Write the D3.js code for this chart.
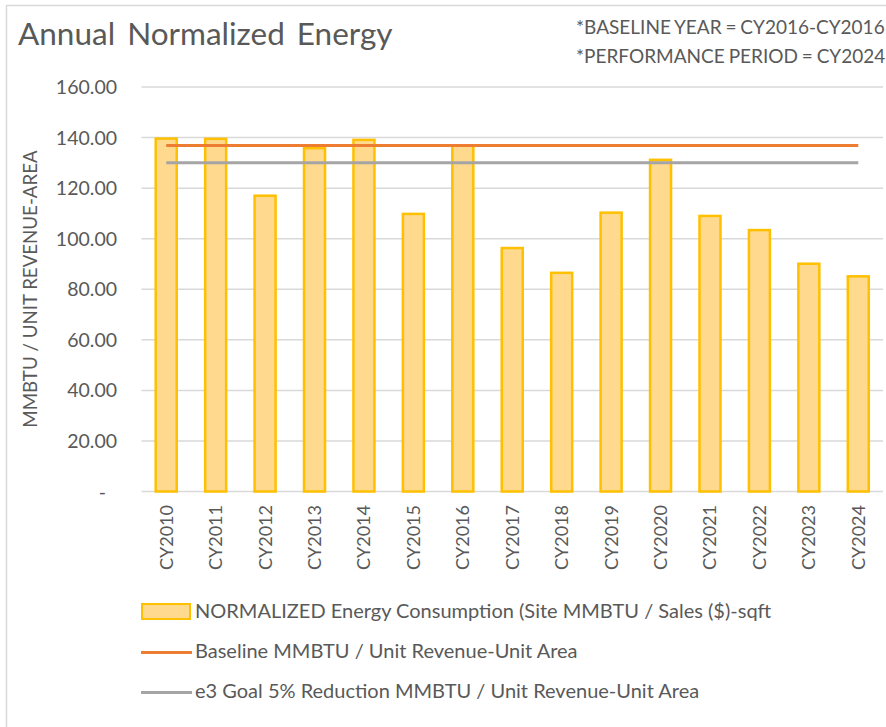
<!DOCTYPE html>
<html lang="en">
	<head>
		<meta charset="utf-8">
		<title>Annual Normalized Energy</title>
		<script src="https://cdn.jsdelivr.net/npm/d3@7"></script>
		<style type="text/css">
			body { margin: 0; background: #fff; }
			text { font-family: Lato, "Open Sans", sans-serif; fill: #595959; }
		</style>
	</head>
	<body>
		<script type="text/javascript">
			var w = 886;
			var h = 727;

			var years = ["CY2010", "CY2011", "CY2012", "CY2013", "CY2014", "CY2015", "CY2016", "CY2017",
						 "CY2018", "CY2019", "CY2020", "CY2021", "CY2022", "CY2023", "CY2024"];
			var normalized = [139.6, 139.5, 117.0, 135.8, 139.1, 109.8, 136.9, 96.3,
							  86.5, 110.3, 131.2, 109.0, 103.4, 90.1, 85.1];
			var baseline = 136.9;
			var goal = 130.0;
			var yTicks = [0, 20, 40, 60, 80, 100, 120, 140, 160];
			var legendLabels = ["NORMALIZED Energy Consumption (Site MMBTU / Sales ($)-sqft",
								"Baseline MMBTU / Unit Revenue-Unit Area",
								"e3 Goal 5% Reduction MMBTU / Unit Revenue-Unit Area"];

			var xScale = d3.scaleBand()
							.domain(years)
							.range([141.5, 883])
							.paddingInner(0.575)
							.paddingOuter(0.2875);
			var yScale = d3.scaleLinear()
							.domain([0, 160])
							.range([491.5, 87]);

			var svg = d3.select("body")
						.append("svg")
						.attr("width", w)
						.attr("height", h);

			//chart frame (cropped on the right and bottom)
			svg.append("path")
				.attr("d", "M6.5," + h + "V5.5H" + w)
				.attr("fill", "none")
				.attr("stroke", "#d9d9d9")
				.attr("stroke-width", 1.5);

			//title + notes
			svg.append("text")
				.attr("x", 18)
				.attr("y", 45)
				.attr("font-size", "31.5px")
				.attr("word-spacing", "4px")
				.text("Annual Normalized Energy");
			svg.append("text")
				.attr("x", 576)
				.attr("y", 34)
				.attr("font-size", "19px")
				.attr("word-spacing", "-1px")
				.text("*BASELINE YEAR = CY2016-CY2016");
			svg.append("text")
				.attr("x", 576)
				.attr("y", 63)
				.attr("font-size", "19px")
				.attr("word-spacing", "-1px")
				.text("*PERFORMANCE PERIOD = CY2024");

			//gridlines
			svg.selectAll("line.grid")
				.data(yTicks)
				.enter()
				.append("line")
				.attr("class", "grid")
				.attr("x1", 141.5)
				.attr("x2", 883)
				.attr("y1", function(d) { return yScale(d); })
				.attr("y2", function(d) { return yScale(d); })
				.attr("stroke", "#d9d9d9")
				.attr("stroke-width", 1.5);

			//y tick labels
			svg.selectAll("text.ytick")
				.data(yTicks)
				.enter()
				.append("text")
				.attr("class", "ytick")
				.attr("text-anchor", "end")
				.attr("x", function(d) { return d === 0 ? 106 : 117; })
				.attr("y", function(d) { return yScale(d) + 7; })
				.attr("font-size", "19.5px")
				.text(function(d) { return d === 0 ? "-" : d3.format(".2f")(d); });

			//y axis title
			svg.append("text")
				.attr("transform", "translate(37,289) rotate(-90)")
				.attr("text-anchor", "middle")
				.attr("font-size", "18.7px")
				.text("MMBTU / UNIT REVENUE-AREA");

			//bars
			svg.selectAll("rect.bar")
				.data(normalized)
				.enter()
				.append("rect")
				.attr("class", "bar")
				.attr("x", function(d, i) { return xScale(years[i]); })
				.attr("y", function(d) { return yScale(d); })
				.attr("width", xScale.bandwidth())
				.attr("height", function(d) { return yScale(0) - yScale(d); })
				.attr("fill", "#fed98e")
				.attr("stroke", "#ffc000")
				.attr("stroke-width", 2.5);

			//baseline and goal lines
			var first = xScale(years[0]) + xScale.bandwidth() / 2;
			var last = xScale(years[years.length - 1]) + xScale.bandwidth() / 2;
			svg.append("line")
				.attr("x1", first).attr("x2", last)
				.attr("y1", yScale(baseline)).attr("y2", yScale(baseline))
				.attr("stroke", "#ed7d31")
				.attr("stroke-width", 3);
			svg.append("line")
				.attr("x1", first).attr("x2", last)
				.attr("y1", yScale(goal)).attr("y2", yScale(goal))
				.attr("stroke", "#a5a5a5")
				.attr("stroke-width", 3);

			//x labels
			svg.selectAll("text.xlab")
				.data(years)
				.enter()
				.append("text")
				.attr("class", "xlab")
				.attr("text-anchor", "end")
				.attr("transform", function(d) {
					return "translate(" + (xScale(d) + xScale.bandwidth() / 2 + 6.5) + ",505) rotate(-90)";
				})
				.attr("font-family", "'Liberation Sans', Arial, sans-serif")
				.attr("font-size", "18px")
				.text(function(d) { return d; });

			//legend
			var legend = svg.append("g");
			legend.append("rect")
				.attr("x", 142).attr("y", 604)
				.attr("width", 48).attr("height", 15)
				.attr("fill", "#fed98e")
				.attr("stroke", "#ffc000")
				.attr("stroke-width", 2);
			legend.append("line")
				.attr("x1", 141).attr("x2", 192)
				.attr("y1", 652.5).attr("y2", 652.5)
				.attr("stroke", "#ed7d31").attr("stroke-width", 3);
			legend.append("line")
				.attr("x1", 141).attr("x2", 192)
				.attr("y1", 692.5).attr("y2", 692.5)
				.attr("stroke", "#a5a5a5").attr("stroke-width", 3);
			legend.selectAll("text")
				.data(legendLabels)
				.enter()
				.append("text")
				.attr("x", 195)
				.attr("y", function(d, i) { return 618 + i * 40; })
				.attr("font-size", "20px")
				.text(function(d) { return d; });
		</script>
	</body>
</html>
